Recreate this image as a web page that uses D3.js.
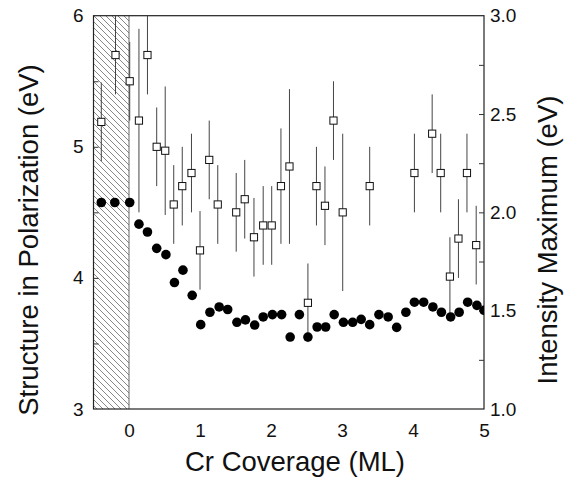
<!DOCTYPE html>
<html>
<head>
<meta charset="utf-8">
<script src="https://cdn.jsdelivr.net/npm/d3@7"></script>
<style>
html,body{margin:0;padding:0;background:#fff;}
svg{display:block;}
text{font-family:"Liberation Sans",Arial,Helvetica,sans-serif;fill:#111;}
</style>
</head>
<body>
<svg id="chart" width="573" height="480"></svg>
<script>
// Filled circles: Intensity Maximum (right axis, eV)
const circleX = [-0.39,-0.20,0.01,0.14,0.26,0.39,0.52,0.64,0.76,0.89,1.01,1.14,1.27,1.39,1.52,1.64,1.77,1.89,2.02,2.15,2.27,2.40,2.52,2.65,2.77,2.89,3.02,3.15,3.27,3.39,3.52,3.65,3.77,3.90,4.02,4.15,4.28,4.40,4.53,4.65,4.77,4.90,5.00];
const circleY = [2.05,2.05,2.05,1.94,1.90,1.817,1.785,1.643,1.706,1.578,1.429,1.492,1.519,1.506,1.441,1.453,1.427,1.468,1.48,1.48,1.366,1.48,1.366,1.417,1.417,1.48,1.441,1.441,1.456,1.429,1.48,1.468,1.415,1.492,1.543,1.543,1.519,1.492,1.468,1.492,1.543,1.527,1.502];

// Open squares with error bars: Structure in Polarization (left axis, eV)
const squareX = [-0.39,-0.19,0.01,0.14,0.26,0.39,0.51,0.63,0.75,0.88,1.00,1.13,1.25,1.51,1.63,1.76,1.89,2.01,2.14,2.26,2.52,2.64,2.76,2.88,3.01,3.39,4.02,4.27,4.39,4.52,4.64,4.76,4.89];
const squareY = [5.19,5.70,5.50,5.20,5.70,5.00,4.97,4.56,4.70,4.80,4.21,4.90,4.56,4.50,4.60,4.31,4.40,4.40,4.70,4.85,3.81,4.70,4.55,5.20,4.50,4.70,4.80,5.10,4.80,4.01,4.30,4.80,4.25];
const squareErr = [0.30,0.30,0.30,0.70,0.30,0.30,0.49,0.30,0.30,0.30,0.30,0.30,0.30,0.30,0.30,0.30,0.30,0.30,0.44,0.59,0.30,0.30,0.30,0.30,0.60,0.30,0.30,0.30,0.30,0.30,0.30,0.30,0.30];

const xTicks = [0,1,2,3,4,5];
const yLeftTicks = [3,4,5,6];
const yLeftMinor = [3.5,4,4.5,5,5.5];
const yRightTicks = [1.0,1.5,2.0,2.5,3.0];
const yRightMinor = [1.25,1.5,1.75,2.0,2.25,2.5,2.75];

const svg = d3.select("#chart");
const L = 93.5, R = 484, T = 15.7, B = 409;

const x = d3.scaleLinear().domain([-0.5,5]).range([L,R]);
const yL = d3.scaleLinear().domain([3,6]).range([B,T]);
const yR = d3.scaleLinear().domain([1,3]).range([B,T]);

// hatch pattern
const defs = svg.append("defs");
const pat = defs.append("pattern").attr("id","hatch").attr("patternUnits","userSpaceOnUse")
  .attr("width",6).attr("height",6);
pat.append("path").attr("d","M-1,-1 L7,7 M-7,-1 L1,7 M5,-1 L13,7")
  .attr("stroke","#555").attr("stroke-width",0.7);

svg.append("rect").attr("x",x(-0.5)).attr("y",T).attr("width",x(0)-x(-0.5)).attr("height",B-T)
  .attr("fill","url(#hatch)");
svg.append("line").attr("x1",x(0)).attr("x2",x(0)).attr("y1",T).attr("y2",B)
  .attr("stroke","#666").attr("stroke-width",1);

// frame
svg.append("rect").attr("x",L).attr("y",T).attr("width",R-L).attr("height",B-T)
  .attr("fill","none").attr("stroke","#222").attr("stroke-width",1.2);

// axes (inward minor ticks)
const axL = svg.append("g").attr("transform",`translate(${L},0)`)
  .call(d3.axisRight(yL).tickValues(yLeftMinor).tickSize(5).tickFormat(""));
const axR = svg.append("g").attr("transform",`translate(${R},0)`)
  .call(d3.axisLeft(yR).tickValues(yRightMinor).tickSize(5).tickFormat(""));
[axL,axR].forEach(g=>{g.select(".domain").remove(); g.selectAll("line").attr("stroke","#333");});

const styleText = g=>{g.select(".domain").remove(); g.selectAll("text").attr("font-size",19).attr("fill","#111")
    .style("font-family","Liberation Sans, Arial, sans-serif");};
// tick labels
svg.append("g").attr("transform",`translate(0,${B})`)
  .call(d3.axisBottom(x).tickValues(xTicks).tickSize(0).tickPadding(15).tickFormat(d3.format("d")))
  .call(styleText);
svg.append("g").attr("transform",`translate(${L},0)`)
  .call(d3.axisLeft(yL).tickValues(yLeftTicks).tickSize(0).tickPadding(10).tickFormat(d3.format("d")))
  .call(styleText);
svg.append("g").attr("transform",`translate(${R},0)`)
  .call(d3.axisRight(yR).tickValues(yRightTicks).tickSize(0).tickPadding(6).tickFormat(d3.format(".1f")))
  .call(styleText);

// error bars
const sq = squareX.map((d,i)=>({x:d,y:squareY[i],e:squareErr[i]}));
const clip = defs.append("clipPath").attr("id","plotclip");
clip.append("rect").attr("x",L).attr("y",T).attr("width",R-L).attr("height",B-T);
const pg = svg.append("g").attr("clip-path","url(#plotclip)");
pg.selectAll("line.err").data(sq).join("line").attr("class","err")
  .attr("x1",d=>x(d.x)).attr("x2",d=>x(d.x))
  .attr("y1",d=>yL(d.y+d.e)).attr("y2",d=>yL(d.y-d.e))
  .attr("stroke","#444").attr("stroke-width",1);

// circles
const ci = circleX.map((d,i)=>({x:d,y:circleY[i]}));
pg.selectAll("circle").data(ci).join("circle")
  .attr("cx",d=>x(d.x)).attr("cy",d=>yR(d.y)).attr("r",4.8).attr("fill","#000");

// squares
const s = 7.2;
svg.selectAll("rect.sq").data(sq).join("rect").attr("class","sq")
  .attr("x",d=>x(d.x)-s/2).attr("y",d=>yL(d.y)-s/2).attr("width",s).attr("height",s)
  .attr("fill","#fff").attr("stroke","#111").attr("stroke-width",1);

// titles
svg.append("text").attr("x",295).attr("y",471).attr("text-anchor","middle")
  .attr("font-size",27.5).text("Cr Coverage (ML)");
svg.append("text").attr("transform","translate(38,240) rotate(-90)").attr("text-anchor","middle")
  .attr("font-size",27.5).text("Structure in Polarization (eV)");
svg.append("text").attr("transform","translate(557,240) rotate(-90)").attr("text-anchor","middle")
  .attr("font-size",27.5).text("Intensity Maximum (eV)");
</script>
</body>
</html>
